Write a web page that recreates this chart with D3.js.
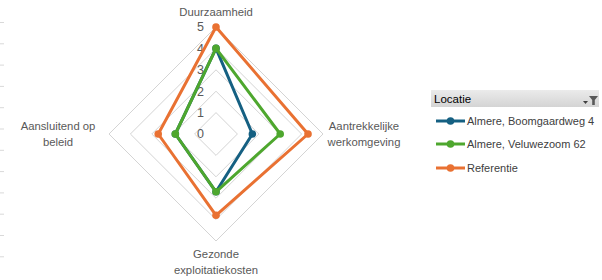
<!DOCTYPE html>
<html lang="nl">
<head>
<meta charset="UTF-8"/>
<title>radar</title>
<script src="https://d3js.org/d3.v7.min.js"></script>
<style>
  body { margin: 0; background: #fff; }
  text { font-family: "Liberation Sans", Arial, sans-serif; fill: #595959; }
</style>
</head>
<body>
<div id="chart"></div>
<script>
// data
var categories = ["Duurzaamheid", "Aantrekkelijke werkomgeving", "Gezonde exploitatiekosten", "Aansluitend op beleid"];
var seriesNames = ["Almere, Boomgaardweg 4", "Almere, Veluwezoom 62", "Referentie"];
var boomgaardweg = [4, 1.7, 2.7, 1.9];
var veluwezoom = [4, 3.0, 2.7, 1.9];
var referentie = [5, 4.3, 3.8, 2.7];
var ticks = [0, 1, 2, 3, 4, 5];
var colors = ["#156082", "#4EA72E", "#E97132"];

var width = 602, height = 280;
var cx = 216, cy = 134;

var svg = d3.select("#chart").append("svg")
    .attr("width", width)
    .attr("height", height);

// faint row marks along the left edge (sheet grid)
svg.append("g").selectAll("line")
  .data(d3.range(12))
  .enter().append("line")
    .attr("x1", 0).attr("x2", 4)
    .attr("y1", function(d) { return 22.5 + d * 21.3; })
    .attr("y2", function(d) { return 22.5 + d * 21.3; })
    .attr("stroke", "#d9d9d9");

var r = d3.scaleLinear().domain([0, 5]).range([0, 107]);
var angle = d3.scalePoint().domain(d3.range(categories.length + 1)).range([0, 2 * Math.PI]);

var g = svg.append("g").attr("transform", "translate(" + cx + "," + cy + ")");

// grid
var gridLine = d3.lineRadial()
    .angle(function(d, i) { return angle(i); })
    .radius(function(d) { return r(d); })
    .curve(d3.curveLinearClosed);

g.selectAll(".grid")
  .data(ticks.slice(1))
  .enter().append("path")
    .attr("class", "grid")
    .attr("d", function(t) { return gridLine(categories.map(function() { return t; })); })
    .attr("fill", "none")
    .attr("stroke", "#d4d4d4")
    .attr("stroke-width", 1);

// value labels
g.selectAll(".tick")
  .data(ticks)
  .enter().append("text")
    .attr("x", -12)
    .attr("y", function(d) { return -r(d); })
    .attr("dy", "0.35em")
    .attr("text-anchor", "end")
    .style("font-size", "12.5px")
    .text(function(d) { return d; });

// series
var series = [boomgaardweg, veluwezoom, referentie];
var line = d3.lineRadial()
    .angle(function(d, i) { return angle(i); })
    .radius(function(d) { return r(d); })
    .curve(d3.curveLinearClosed);

series.forEach(function(vals, s) {
  g.append("path")
    .attr("d", line(vals))
    .attr("fill", "none")
    .attr("stroke", colors[s])
    .attr("stroke-width", 3)
    .attr("stroke-linejoin", "round");
  g.selectAll(".pt" + s)
    .data(vals)
    .enter().append("circle")
      .attr("cx", function(d, i) { return r(d) * Math.sin(angle(i)); })
      .attr("cy", function(d, i) { return -r(d) * Math.cos(angle(i)); })
      .attr("r", 3.8)
      .attr("fill", colors[s]);
});

// category labels
var labelLines = [["Duurzaamheid"], ["Aantrekkelijke", "werkomgeving"], ["Gezonde", "exploitatiekosten"], ["Aansluitend op", "beleid"]];
var labelPos = [[0, -118], [148, -4], [0, 124], [-158, -4]];
labelLines.forEach(function(lines, i) {
  var t = g.append("text")
    .attr("text-anchor", "middle")
    .style("font-size", "11.3px");
  lines.forEach(function(l, j) {
    t.append("tspan")
      .attr("x", labelPos[i][0])
      .attr("y", labelPos[i][1] + j * 15.5)
      .text(l);
  });
});

// legend
var lg = svg.append("g").attr("transform", "translate(431,90)");
var grad = svg.append("defs").append("linearGradient")
    .attr("id", "hdr").attr("x1", 0).attr("y1", 0).attr("x2", 0).attr("y2", 1);
grad.append("stop").attr("offset", "0%").attr("stop-color", "#ebebeb");
grad.append("stop").attr("offset", "100%").attr("stop-color", "#d4d4d4");
lg.append("rect")
    .attr("x", 0).attr("y", 0).attr("width", 168).attr("height", 17)
    .attr("fill", "url(#hdr)");
lg.append("text")
    .attr("x", 3).attr("y", 12.5)
    .style("font-size", "11.5px")
    .style("fill", "#000")
    .text("Locatie");
// filter icon
lg.append("path")
    .attr("d", "M158,6 L167,6 L163.8,10 L163.8,15 L161.2,15 L161.2,10 Z")
    .attr("fill", "#595959");
lg.append("path")
    .attr("d", "M152,11 L157,11 L154.5,14 Z")
    .attr("fill", "#404040");

var items = lg.selectAll(".item")
  .data(seriesNames)
  .enter().append("g")
    .attr("transform", function(d, i) { return "translate(0," + [31, 54, 78][i] + ")"; });
items.append("line")
    .attr("x1", 5).attr("x2", 34)
    .attr("stroke", function(d, i) { return colors[i]; })
    .attr("stroke-width", 3);
items.append("circle")
    .attr("cx", 19.5).attr("r", 3.8)
    .attr("fill", function(d, i) { return colors[i]; });
items.append("text")
    .attr("x", 36).attr("dy", "0.35em")
    .style("font-size", "11px")
    .style("fill", "#404040")
    .text(function(d) { return d; });
</script>
</body>
</html>
